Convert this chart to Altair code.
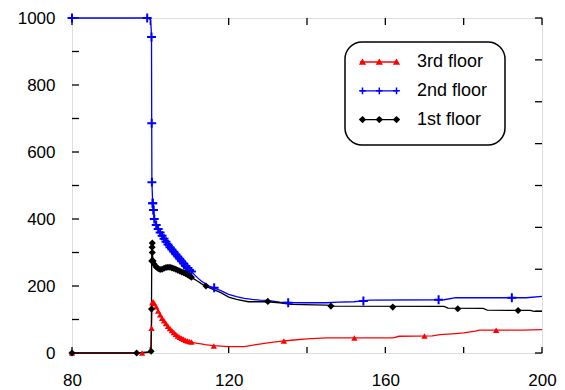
import altair as alt
import pandas as pd

# ---------------- data ----------------
series_names = ["3rd floor", "2nd floor", "1st floor"]
series_colors = ["#ff0000", "#0000ff", "#000000"]

x_label_values = [80, 120, 160, 200]
y_label_values = [0, 200, 400, 600, 800, 1000]
left_tick_values = [0, 100, 200, 300, 400, 500, 600, 700, 800, 900, 1000]
right_tick_values = [0, 125, 250, 375, 500, 625, 750, 875, 1000]
x_tick_values = [80, 100, 120, 140, 160, 180, 200]

red_x = [80, 97.9, 99.5, 100.1, 100.3, 100.4, 100.5, 100.7, 101, 101.5,
         102, 102.5, 103, 103.5, 104, 104.5, 105, 105.5, 106, 106.5,
         107, 107.5, 108, 108.5, 109, 109.5, 110, 110.5, 111, 112,
         113, 114, 116, 120, 124, 127, 130, 133, 136, 140,
         145, 162, 163.5, 172, 174, 178, 180, 183, 184, 195, 200]
red_y = [0, 0, 2, 8, 74, 130, 150, 153, 148, 138,
         125, 114, 104, 96, 88, 80, 73, 67, 61, 56,
         51, 47, 44, 41, 38, 36, 34, 33, 31, 29,
         27, 25, 22, 19, 19, 25, 30, 35, 38, 42,
         45, 45, 50, 51, 55, 58, 60, 65, 68, 68, 70]

blue_x = [80, 99.3, 100.1, 100.3, 100.35, 100.4, 100.6, 100.8, 101, 101.5,
          102, 102.5, 103, 103.5, 104, 104.5, 105, 105.5, 106, 106.5,
          107, 107.5, 108, 108.5, 109, 109.5, 110, 110.5, 111, 112,
          113, 114, 115, 116, 118, 120, 122, 124, 126, 128,
          130, 133, 136, 145, 148, 152, 156, 175, 178, 196, 200]
blue_y = [1000, 1000, 995, 943, 686, 510, 447, 427, 400, 382,
          370, 360, 350, 341, 332, 324, 316, 309, 302, 295,
          288, 281, 274, 267, 260, 254, 248, 243, 237, 225,
          215, 207, 200, 195, 186, 175, 168, 163, 160, 158,
          157, 152, 150, 150, 152, 153, 158, 159, 165, 165, 169]

black_x = [80, 96.5, 99.6, 100.2, 100.3, 100.35, 100.4, 100.5, 100.7, 101,
           101.5, 102, 102.5, 103, 103.5, 104, 104.5, 105, 105.5, 106,
           106.5, 107, 107.5, 108, 108.5, 109, 109.5, 110, 110.5, 111,
           112, 113, 114, 115, 116, 118, 120, 122, 125, 130,
           133, 136, 145, 147, 175, 176, 185, 186, 197, 198, 200]
black_y = [0, 0, 3, 8, 131, 275, 328, 300, 275, 265,
           257, 252, 249, 250, 253, 255, 256, 256, 254, 252,
           250, 247, 245, 242, 240, 237, 234, 230, 226, 222,
           215, 207, 200, 195, 190, 180, 167, 160, 153, 153,
           150, 145, 143, 140, 139, 134, 133, 128, 127, 124, 124]

# sparse markers
red_mark_x = [80, 97.9, 100.3, 116.2, 134.1, 152.1, 170, 188.3]
red_mark_y = [0, 0, 74, 21, 36, 45, 51, 68]
blue_mark_x = [80, 99.2, 100.3, 100.35, 100.4, 100.6, 100.8, 116.3, 135.2, 154.4, 173.6, 192.3]
blue_mark_y = [1000, 1000, 943, 686, 510, 447, 427, 195, 150, 155, 159, 165]
black_mark_x = [80, 96.5, 100.2, 100.3, 100.35, 100.45, 100.5, 114.2, 130, 146.1, 161.9, 178.5, 193.9]
black_mark_y = [0, 0, 5, 131, 275, 316, 328, 200, 154, 140, 137, 132, 127]

# region where every sample carries a marker (dense band)
dense_from, dense_to = 100.5, 110.6

# ---------------- tables ----------------
line_rows, mark_rows = [], []
for name, xs, ys, mx, my in [
    ("3rd floor", red_x, red_y, red_mark_x, red_mark_y),
    ("2nd floor", blue_x, blue_y, blue_mark_x, blue_mark_y),
    ("1st floor", black_x, black_y, black_mark_x, black_mark_y),
]:
    for i, (a, b) in enumerate(zip(xs, ys)):
        line_rows.append({"x": a, "y": b, "series": name, "i": i})
        if dense_from <= a <= dense_to:
            mark_rows.append({"x": a, "y": b, "series": name})
    for a, b in zip(mx, my):
        mark_rows.append({"x": a, "y": b, "series": name})

df_lines = pd.DataFrame(line_rows)
df_marks = pd.DataFrame(mark_rows)

# ---------------- layout / style ----------------
W, H = 470, 335
FONT = "Liberation Sans"
CROSS = "M-1,0H1M0,-1V1"

xscale = alt.Scale(domain=[80, 200], nice=False, zero=False)
yscale = alt.Scale(domain=[0, 1000], nice=False, zero=False)
xaxis = alt.Axis(values=x_label_values, ticks=False, grid=False, domain=False,
                 labelPadding=19, title=None, labelFontSize=17, labelFont=FONT,
                 labelColor="black", labelFlush=False, labelOverlap=False, format="d")
yaxis = alt.Axis(values=y_label_values, ticks=False, grid=False, domain=False,
                 labelPadding=17, title=None, labelFontSize=17, labelFont=FONT,
                 labelColor="black", labelFlush=False, labelOverlap=False, format="d")


def X(f):
    return alt.X(f, type="quantitative", scale=xscale, axis=xaxis)


def Y(f):
    return alt.Y(f, type="quantitative", scale=yscale, axis=yaxis)


lines = alt.Chart(df_lines).mark_line(strokeWidth=1.3).encode(
    x=X("x"), y=Y("y"),
    color=alt.Color("series:N", scale=alt.Scale(domain=series_names, range=series_colors), legend=None),
    order=alt.Order("i:Q"),
)

red_pts = alt.Chart(df_marks).transform_filter(alt.datum.series == "3rd floor").mark_point(
    shape="triangle-up", filled=True, size=40, color="#ff0000", opacity=1
).encode(x=X("x"), y=Y("y"))

blue_pts = alt.Chart(df_marks).transform_filter(alt.datum.series == "2nd floor").mark_point(
    shape=CROSS, filled=False, size=80, strokeWidth=2, color="#0000ff", opacity=1
).encode(x=X("x"), y=Y("y"))

black_pts = alt.Chart(df_marks).transform_filter(alt.datum.series == "1st floor").mark_point(
    shape="diamond", filled=True, size=50, color="#000000", opacity=1
).encode(x=X("x"), y=Y("y"))

# inward ticks on all four sides
left_ticks = alt.Chart(pd.DataFrame({"v": left_tick_values})).mark_rule(color="black", strokeWidth=1.3).encode(
    y=Y("v"), x=alt.value(0), x2=alt.value(7))
right_ticks = alt.Chart(pd.DataFrame({"v": right_tick_values})).mark_rule(color="black", strokeWidth=1.3).encode(
    y=Y("v"), x=alt.value(W), x2=alt.value(W - 7))
bottom_ticks = alt.Chart(pd.DataFrame({"v": x_tick_values})).mark_rule(color="black", strokeWidth=1.3).encode(
    x=X("v"), y=alt.value(H), y2=alt.value(H - 6))
top_ticks = alt.Chart(pd.DataFrame({"v": x_tick_values})).mark_rule(color="black", strokeWidth=1.3).encode(
    x=X("v"), y=alt.value(0), y2=alt.value(7))

# ---------------- legend (rounded box, line + three markers, label) ----------------
legend_df = pd.DataFrame({
    "label": series_names,
    "color": series_colors,
    "row": [0, 1, 2],
    "shp": ["triangle-up", CROSS, "diamond"],
    "fillc": ["#ff0000", "transparent", "#000000"],
    "sz": [22, 45, 28],
})
BOX_X0, BOX_X1, BOX_Y0, BOX_Y1 = 273, 433, 24, 127
ROW_Y0, ROW_STEP = 44, 28.8
SYM_X0, SYM_X1 = 288, 326
MARK_XS = [290.5, 307.3, 324.5]
LABEL_X = 345

leg_base = alt.Chart(legend_df).transform_calculate(ly=f"{ROW_Y0} + {ROW_STEP} * datum.row")
leg_y = alt.Y("ly:Q", scale=None, axis=None)

leg_box = alt.Chart(pd.DataFrame({"k": [0]})).mark_rect(
    cornerRadius=17, fill="white", stroke="black", strokeWidth=1.5
).encode(x=alt.value(BOX_X0), x2=alt.value(BOX_X1), y=alt.value(BOX_Y0), y2=alt.value(BOX_Y1))

leg_lines = leg_base.mark_rule(strokeWidth=1.3).encode(
    x=alt.value(SYM_X0), x2=alt.value(SYM_X1), y=leg_y,
    color=alt.Color("color:N", scale=None, legend=None),
)
leg_marks = [
    leg_base.mark_point(opacity=1, strokeWidth=1.5).encode(
        x=alt.value(mx), y=leg_y,
        shape=alt.Shape("shp:N", scale=None, legend=None),
        fill=alt.Fill("fillc:N", scale=None, legend=None),
        stroke=alt.Stroke("color:N", scale=None, legend=None),
        size=alt.Size("sz:Q", scale=None, legend=None),
    )
    for mx in MARK_XS
]
leg_text = leg_base.mark_text(align="left", baseline="middle", fontSize=18, font=FONT, color="black").encode(
    x=alt.value(LABEL_X), y=leg_y, text="label:N")

chart = alt.layer(
    left_ticks, right_ticks, bottom_ticks, top_ticks,
    lines, red_pts, blue_pts, black_pts,
    leg_box, leg_lines, *leg_marks, leg_text,
).properties(
    width=W, height=H,
    autosize=alt.AutoSizeParams(type="none"),
    padding={"left": 64, "top": 10, "right": 15, "bottom": 37},
).configure_view(stroke="black", strokeWidth=1.5).configure(background="white")

chart.save("out.html", embed_options={"renderer": "svg", "actions": False})
